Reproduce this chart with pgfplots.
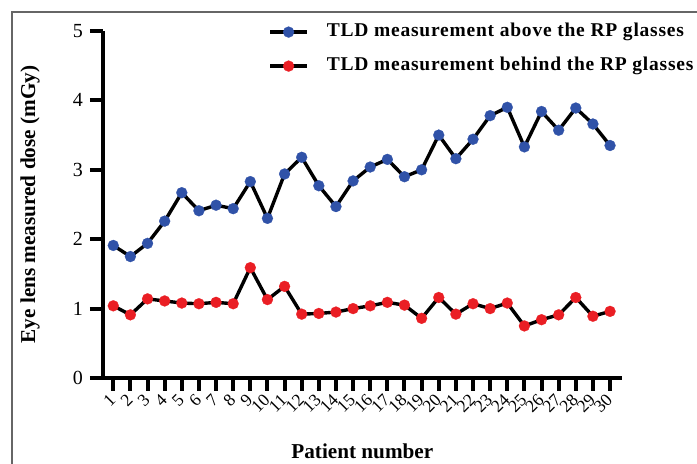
\documentclass[border=0pt]{standalone}
\usepackage{fontspec}
\setmainfont{Liberation Serif}
\usepackage{pgfplots}
\pgfplotsset{compat=1.18}
\definecolor{ptblue}{RGB}{48,82,168}
\definecolor{ptred}{RGB}{234,30,36}
\begin{document}
\begin{tikzpicture}
\begin{axis}[
  scale only axis,
  width=259.35pt, height=173.5pt,
  xmin=0.4, xmax=30.68, ymin=0, ymax=5,
  axis x line=bottom, axis y line=left,
  axis line style={-, line width=2pt, black},
  tick align=outside, major tick length=6.5pt,
  tick style={line width=2pt, black},
  xtick={1,...,30}, ytick={0,1,2,3,4,5},
  /pgf/number format/assume math mode=true,
  yticklabel style={font=\fontsize{10}{12}\selectfont},
  xticklabel style={font=\fontsize{8.75}{10}\selectfont, rotate=45, anchor=east, xshift=1pt, yshift=-2pt},
  every axis y label/.style={at={(rel axis cs:-0.1407,0.5)}, rotate=90, anchor=center},
  every axis x label/.style={at={(rel axis cs:0.5,-0.2104)}, anchor=center},
  label style={font=\bfseries\fontsize{10.6}{12}\selectfont},
  xlabel={Patient number},
  ylabel={Eye lens measured dose (mGy)},
  legend style={at={(rel axis cs:0,1)}, xshift=82.5pt, yshift=4pt, anchor=north west,
    draw=none, fill=none, inner sep=0pt, column sep=9pt, row sep=8.3pt,
    nodes={inner sep=0pt, text height=6.7pt, text depth=2pt},
    font=\bfseries\fontsize{9.75}{11}\selectfont\addfontfeatures{LetterSpace=4}},
  legend cell align=left,
  legend image code/.code={
    \draw[mark repeat=2, mark phase=2, #1] plot coordinates {(0pt,0pt) (9.25pt,0pt) (18.5pt,0pt)};
  },
  clip=false,
]
\addplot[black, line width=1.7pt, mark=*, mark size=2.75pt,
  mark options={ptblue, line width=0.1pt}] coordinates {
(1,1.91) (2,1.75) (3,1.94) (4,2.26) (5,2.67) (6,2.41) (7,2.49) (8,2.44) (9,2.83) (10,2.30)
(11,2.94) (12,3.18) (13,2.77) (14,2.47) (15,2.84) (16,3.04) (17,3.15) (18,2.90) (19,3.00) (20,3.50)
(21,3.16) (22,3.44) (23,3.78) (24,3.90) (25,3.33) (26,3.84) (27,3.57) (28,3.89) (29,3.66) (30,3.35)
};
\addlegendentry{TLD measurement above the RP glasses}
\addplot[black, line width=1.7pt, mark=*, mark size=2.75pt,
  mark options={ptred, line width=0.1pt}] coordinates {
(1,1.04) (2,0.91) (3,1.14) (4,1.11) (5,1.08) (6,1.07) (7,1.09) (8,1.07) (9,1.59) (10,1.13)
(11,1.32) (12,0.92) (13,0.93) (14,0.95) (15,1.00) (16,1.04) (17,1.09) (18,1.05) (19,0.86) (20,1.16)
(21,0.92) (22,1.07) (23,1.00) (24,1.08) (25,0.75) (26,0.84) (27,0.91) (28,1.16) (29,0.89) (30,0.96)
};
\addlegendentry{TLD measurement behind the RP glasses}
\coordinate (o) at (rel axis cs:0,0);
\end{axis}
\draw[line width=0.6pt, black!60] ([shift={(-45.5pt,-43pt)}]o) -- ([shift={(-45.5pt,183pt)}]o) -- ([shift={(297pt,183pt)}]o);
\pgfresetboundingbox
\path ([shift={(-51.5pt,-43pt)}]o) rectangle ([shift={(297pt,189pt)}]o);
\end{tikzpicture}
\end{document}
